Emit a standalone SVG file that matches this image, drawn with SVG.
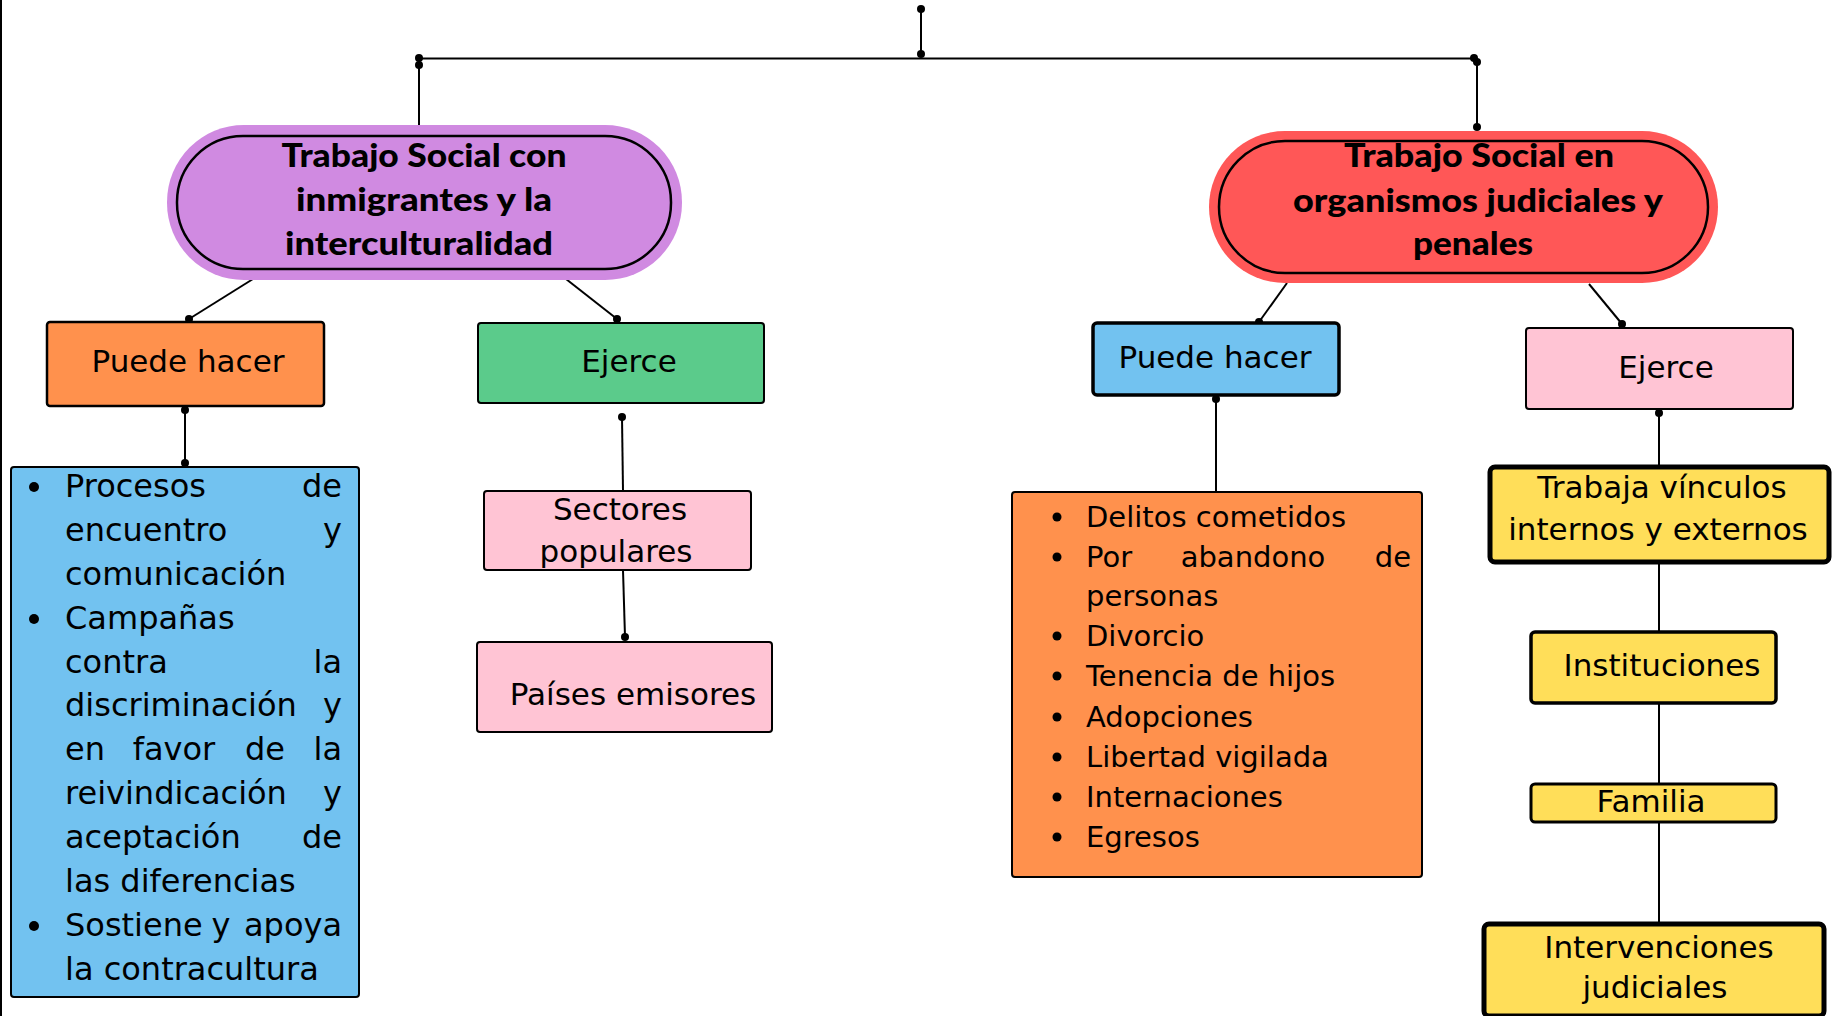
<svg xmlns="http://www.w3.org/2000/svg" width="1837" height="1016" viewBox="0 0 1837 1016">
<style>
.ln{stroke:#000;stroke-width:2;fill:none}
.dot{fill:#000}
.t{font-family:"DejaVu Sans","Liberation Sans",sans-serif;fill:#000}
.n{font-size:31px}
.l1{font-size:32px}
.l2{font-size:29px}
.ti{font-family:Lato,"Liberation Sans",sans-serif;font-weight:900;font-size:32px;fill:#000;text-anchor:middle}
.mid{text-anchor:middle}
.end{text-anchor:end}
.box{stroke:#000;stroke-width:2}
</style>
<rect x="0" y="0" width="1837" height="1016" fill="#fff"/>
<line x1="1" y1="0" x2="1" y2="1016" stroke="#000" stroke-width="2"/>

<g id="connectors">
  <line class="ln" x1="921" y1="9" x2="921" y2="54"/>
  <line class="ln" x1="419" y1="58.5" x2="1474" y2="58.5"/>
  <line class="ln" x1="419" y1="58" x2="419" y2="129"/>
  <line class="ln" x1="1477" y1="60" x2="1477" y2="127"/>
  <circle class="dot" cx="921" cy="9" r="4"/>
  <circle class="dot" cx="921" cy="54" r="4"/>
  <circle class="dot" cx="419" cy="58" r="4"/>
  <circle class="dot" cx="419" cy="65" r="4"/>
  <circle class="dot" cx="419" cy="129" r="4"/>
  <circle class="dot" cx="1474" cy="58" r="4"/>
  <circle class="dot" cx="1477" cy="62" r="4"/>
  <circle class="dot" cx="1477" cy="127" r="4"/>
  <!-- left branch -->
  <line class="ln" x1="253" y1="279" x2="189" y2="319"/>
  <circle class="dot" cx="189" cy="319" r="4"/>
  <line class="ln" x1="566" y1="279" x2="617" y2="319"/>
  <circle class="dot" cx="617" cy="319" r="4"/>
  <line class="ln" x1="185" y1="410" x2="185" y2="463"/>
  <circle class="dot" cx="185" cy="410" r="4"/>
  <circle class="dot" cx="185" cy="463" r="4"/>
  <line class="ln" x1="622" y1="417" x2="623" y2="491"/>
  <circle class="dot" cx="622" cy="417" r="4"/>
  <line class="ln" x1="623" y1="570" x2="625" y2="637"/>
  <circle class="dot" cx="625" cy="637" r="4"/>
  <!-- right branch -->
  <line class="ln" x1="1287" y1="283" x2="1259" y2="322"/>
  <circle class="dot" cx="1259" cy="322" r="4"/>
  <line class="ln" x1="1589" y1="284" x2="1622" y2="324"/>
  <circle class="dot" cx="1622" cy="324" r="4"/>
  <line class="ln" x1="1216" y1="399" x2="1216" y2="492"/>
  <circle class="dot" cx="1216" cy="399" r="4"/>
  <line class="ln" x1="1659" y1="413" x2="1659" y2="467"/>
  <circle class="dot" cx="1659" cy="413" r="4"/>
  <line class="ln" x1="1659" y1="562" x2="1659" y2="632"/>
  <line class="ln" x1="1659" y1="703" x2="1659" y2="784"/>
  <line class="ln" x1="1659" y1="822" x2="1659" y2="923"/>
</g>

<g id="node-inmigrantes">
  <rect x="167" y="125" width="515" height="155" rx="77" ry="77" fill="#D08AE1"/>
  <rect x="177" y="136" width="494" height="133" rx="66" ry="66" fill="#D08AE1" stroke="#000" stroke-width="2.5"/>
  <text class="ti" x="424" y="167" textLength="285" lengthAdjust="spacingAndGlyphs">Trabajo Social con</text>
  <text class="ti" x="424" y="211" textLength="256" lengthAdjust="spacingAndGlyphs">inmigrantes y la</text>
  <text class="ti" x="419" y="255" textLength="268" lengthAdjust="spacingAndGlyphs">interculturalidad</text>
</g>

<g id="node-judiciales">
  <rect x="1209" y="131" width="509" height="152" rx="76" ry="76" fill="#FF5757"/>
  <rect x="1219" y="141" width="489" height="132" rx="66" ry="66" fill="#FF5757" stroke="#000" stroke-width="2.5"/>
  <text class="ti" x="1479" y="167" textLength="270" lengthAdjust="spacingAndGlyphs">Trabajo Social en</text>
  <text class="ti" x="1478" y="212" textLength="370" lengthAdjust="spacingAndGlyphs">organismos judiciales y</text>
  <text class="ti" x="1473" y="255" textLength="120" lengthAdjust="spacingAndGlyphs">penales</text>
</g>

<g id="node-puede-hacer-1">
  <rect x="47" y="322" width="277" height="84" rx="3" fill="#FF914D" stroke="#000" stroke-width="2.5"/>
  <text class="t n mid" x="188" y="372">Puede hacer</text>
</g>

<g id="node-ejerce-1">
  <rect x="478" y="323" width="286" height="80" rx="3" fill="#5BCB8B" class="box"/>
  <text class="t n mid" x="629" y="372">Ejerce</text>
</g>

<g id="node-lista-1">
  <rect x="11" y="467" width="348" height="530" rx="3" fill="#72C2F0" class="box"/>
  <circle class="dot" cx="34" cy="487" r="5"/>
  <circle class="dot" cx="34" cy="619" r="5"/>
  <circle class="dot" cx="34" cy="926" r="5"/>
  <g class="t l1">
    <text x="65" y="497">Procesos</text><text class="end" x="342" y="497">de</text>
    <text x="65" y="541">encuentro</text><text class="end" x="342" y="541">y</text>
    <text x="65" y="585">comunicación</text>
    <text x="65" y="629">Campañas</text>
    <text x="65" y="673">contra</text><text class="end" x="342" y="673">la</text>
    <text x="65" y="716">discriminación</text><text class="end" x="342" y="716">y</text>
    <text x="65" y="760">en</text><text class="mid" x="174" y="760">favor</text><text class="mid" x="265" y="760">de</text><text class="end" x="342" y="760">la</text>
    <text x="65" y="804">reivindicación</text><text class="end" x="342" y="804">y</text>
    <text x="65" y="848">aceptación</text><text class="end" x="342" y="848">de</text>
    <text x="65" y="892">las diferencias</text>
    <text x="65" y="936">Sostiene</text><text class="mid" x="221" y="936">y</text><text class="end" x="342" y="936">apoya</text>
    <text x="65" y="980">la contracultura</text>
  </g>
</g>

<g id="node-sectores">
  <rect x="484" y="491" width="267" height="79" rx="3" fill="#FFC4D4" class="box"/>
  <text class="t n mid" x="620" y="520">Sectores</text>
  <text class="t n mid" x="616" y="562">populares</text>
</g>

<g id="node-paises">
  <rect x="477" y="642" width="295" height="90" rx="3" fill="#FFC4D4" class="box"/>
  <text class="t n mid" x="633" y="705">Países emisores</text>
</g>

<g id="node-puede-hacer-2">
  <rect x="1093" y="323" width="246" height="72" rx="4" fill="#72C2F0" stroke="#000" stroke-width="3.5"/>
  <text class="t n mid" x="1215" y="368">Puede hacer</text>
</g>

<g id="node-ejerce-2">
  <rect x="1526" y="328" width="267" height="81" rx="3" fill="#FFC4D4" class="box"/>
  <text class="t n mid" x="1666" y="378">Ejerce</text>
</g>

<g id="node-lista-2">
  <rect x="1012" y="492" width="410" height="385" rx="3" fill="#FF914D" class="box"/>
  <circle class="dot" cx="1057" cy="517" r="4.5"/>
  <circle class="dot" cx="1057" cy="557" r="4.5"/>
  <circle class="dot" cx="1057" cy="636" r="4.5"/>
  <circle class="dot" cx="1057" cy="676" r="4.5"/>
  <circle class="dot" cx="1057" cy="717" r="4.5"/>
  <circle class="dot" cx="1057" cy="757" r="4.5"/>
  <circle class="dot" cx="1057" cy="797" r="4.5"/>
  <circle class="dot" cx="1057" cy="837" r="4.5"/>
  <g class="t l2">
    <text x="1086" y="527">Delitos cometidos</text>
    <text x="1086" y="567">Por</text><text class="mid" x="1253" y="567">abandono</text><text class="end" x="1411" y="567">de</text>
    <text x="1086" y="606">personas</text>
    <text x="1086" y="646">Divorcio</text>
    <text x="1086" y="686">Tenencia de hijos</text>
    <text x="1086" y="727">Adopciones</text>
    <text x="1086" y="767">Libertad vigilada</text>
    <text x="1086" y="807">Internaciones</text>
    <text x="1086" y="847">Egresos</text>
  </g>
</g>

<g id="node-vinculos">
  <rect x="1490" y="467" width="339" height="95" rx="5" fill="#FFDE59" stroke="#000" stroke-width="5"/>
  <text class="t n mid" x="1662" y="498">Trabaja vínculos</text>
  <text class="t n mid" x="1658" y="540">internos y externos</text>
</g>

<g id="node-instituciones">
  <rect x="1531" y="632" width="245" height="71" rx="4" fill="#FFDE59" stroke="#000" stroke-width="3.5"/>
  <text class="t n mid" x="1662" y="676">Instituciones</text>
</g>

<g id="node-familia">
  <rect x="1531" y="784" width="245" height="38" rx="4" fill="#FFDE59" stroke="#000" stroke-width="3"/>
  <text class="t n mid" x="1651" y="812">Familia</text>
</g>

<g id="node-intervenciones">
  <rect x="1484" y="924" width="340" height="92" rx="5" fill="#FFDE59" stroke="#000" stroke-width="5"/>
  <text class="t n mid" x="1659" y="958">Intervenciones</text>
  <text class="t n mid" x="1655" y="998">judiciales</text>
</g>
</svg>
